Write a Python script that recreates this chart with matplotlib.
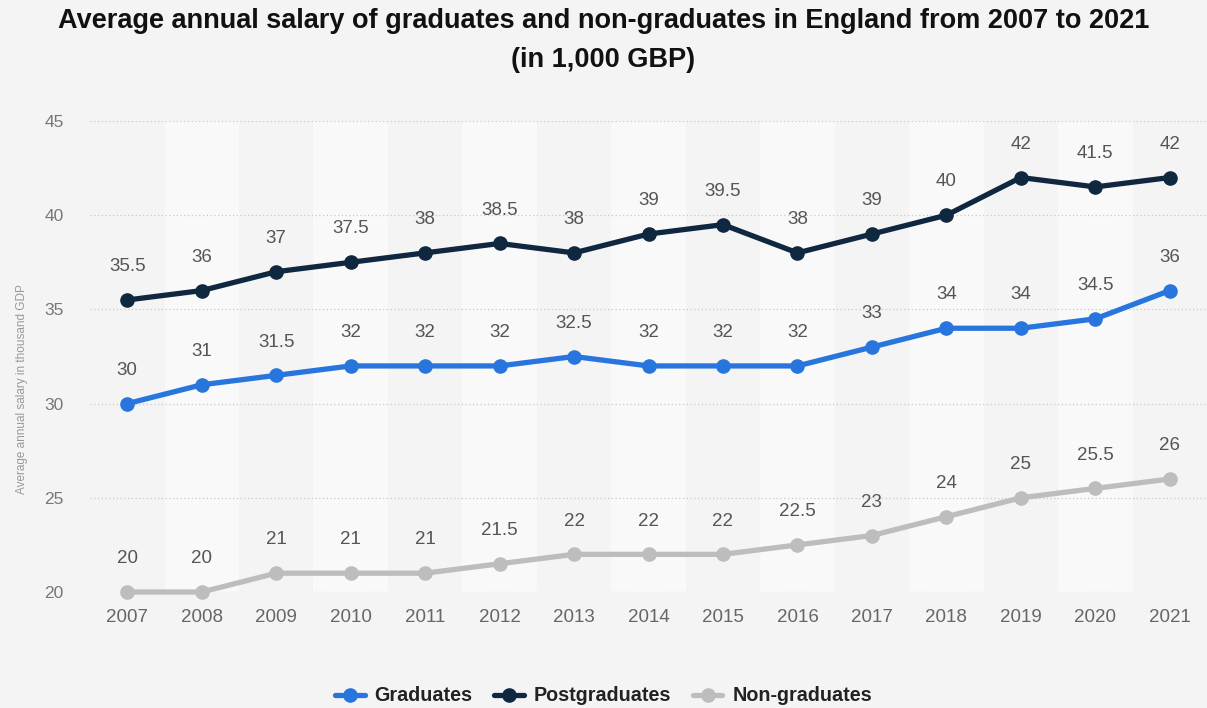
import matplotlib.pyplot as plt
import numpy as np

plt.rcParams['font.family'] = ['Liberation Sans', 'DejaVu Sans']

years = [2007, 2008, 2009, 2010, 2011, 2012, 2013, 2014, 2015, 2016, 2017, 2018, 2019, 2020, 2021]
graduates = [30, 31, 31.5, 32, 32, 32, 32.5, 32, 32, 32, 33, 34, 34, 34.5, 36]
postgraduates = [35.5, 36, 37, 37.5, 38, 38.5, 38, 39, 39.5, 38, 39, 40, 42, 41.5, 42]
non_graduates = [20, 20, 21, 21, 21, 21.5, 22, 22, 22, 22.5, 23, 24, 25, 25.5, 26]

series = [
    ('Graduates', graduates, '#2876dd'),
    ('Postgraduates', postgraduates, '#0f2840'),
    ('Non-graduates', non_graduates, '#bdbdbd'),
]

bg = '#f4f4f4'
fig = plt.figure(figsize=(12.07, 7.08), dpi=100, facecolor=bg)
ax = fig.add_axes([0.0746, 0.1638, 0.9254, 0.6653])
ax.set_facecolor(bg)

# alternating column stripes
for i, yr in enumerate(years):
    if i % 2 == 1:
        ax.axvspan(yr - 0.5, yr + 0.5, color='#f9f9f9', zorder=0, lw=0)

for name, vals, col in series:
    ax.plot(years, vals, color=col, lw=3.8, marker='o', markersize=9.5,
            label=name, zorder=3, clip_on=False, solid_capstyle='round')
    for x, v in zip(years, vals):
        ax.annotate(f'{v:g}', (x, v), xytext=(0, 24), textcoords='offset points',
                    ha='center', va='center', fontsize=13.5, color='#555555')

ax.set_xlim(2006.5, 2021.5)
ax.set_ylim(20, 45)
ax.set_xticks(years)
ax.set_yticks(np.arange(20, 46, 5))
ax.tick_params(axis='x', length=0, labelsize=13.5, colors='#666666', pad=12)
ax.tick_params(axis='y', length=0, labelsize=12.5, colors='#777777', pad=19)
ax.grid(axis='y', linestyle=(0, (1, 2)), color='#c8c8c8', lw=0.9, zorder=1)
for s in ax.spines.values():
    s.set_visible(False)

fig.text(0.018, 0.45, 'Average annual salary in thousand GDP', rotation=90,
         ha='center', va='center', fontsize=8.5, color='#999999')

fig.text(0.5, 0.97, 'Average annual salary of graduates and non-graduates in England from 2007 to 2021',
         ha='center', va='center', fontsize=19.5, fontweight='bold', color='#111111')
fig.text(0.5, 0.915, '(in 1,000 GBP)', ha='center', va='center',
         fontsize=19.5, fontweight='bold', color='#111111')

leg = fig.legend(loc='center', bbox_to_anchor=(0.5, 0.017), ncol=3, frameon=False,
                 handlelength=1.5, columnspacing=1.1, handletextpad=0.5,
                 prop={'weight': 'bold', 'size': 14.2})
for t in leg.get_texts():
    t.set_color('#222222')

fig.savefig('out.png', dpi=100, facecolor=bg)
